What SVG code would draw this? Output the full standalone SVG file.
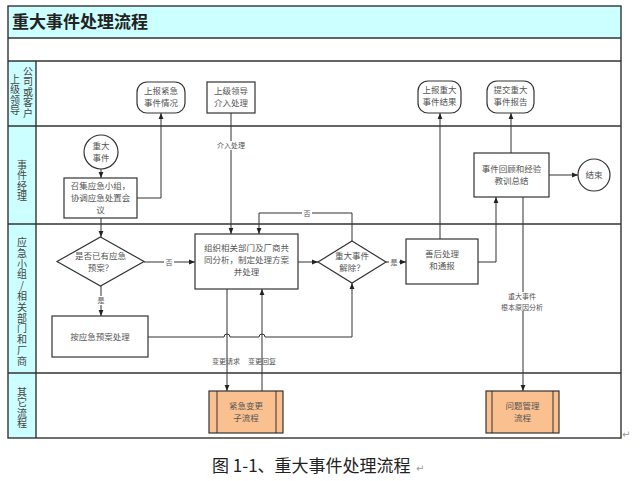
<svg xmlns="http://www.w3.org/2000/svg" width="640" height="481" viewBox="0 0 640 481">
<style>
.frame{fill:none;stroke:#333;stroke-width:1.4}
.band{fill:#CCFFFF;stroke:none}
.ln{fill:none;stroke:#333;stroke-width:1}
.box{fill:#fff;stroke:#333;stroke-width:1.2}
.sub{fill:#FAC08F;stroke:#333;stroke-width:1.2}
.t{font-family:"Noto Sans CJK SC","Liberation Serif",serif;font-size:8.5px;fill:#555;text-anchor:middle}
.s{font-family:"Noto Sans CJK SC","Liberation Serif",serif;font-size:7px;fill:#555;text-anchor:middle}
.lane{font-family:"Noto Sans CJK SC","Liberation Serif",serif;font-size:10px;fill:#444;text-anchor:middle;writing-mode:vertical-rl;text-orientation:upright}
.title{font-family:"Noto Sans CJK SC",sans-serif;font-size:17px;font-weight:bold;fill:#222}
.cap{font-family:"Noto Sans CJK SC","Liberation Sans",sans-serif;font-size:17px;fill:#222}
.mark{font-family:"DejaVu Sans",sans-serif;font-size:10px;fill:#999}
</style>
<defs>
<marker id="arr" viewBox="0 0 10 10" refX="10" refY="5" markerWidth="6" markerHeight="6" orient="auto" markerUnits="userSpaceOnUse">
<path d="M0,1 L10,5 L0,9 Z" fill="#222"/>
</marker>
</defs>
<rect width="640" height="481" fill="#fff"/>
<g id="frame">
<rect class="band" x="8" y="6" width="613" height="32"/>
<rect class="band" x="8" y="61" width="28" height="377"/>
<rect class="frame" x="8" y="6" width="613" height="432"/>
<line class="frame" x1="8" y1="38" x2="621" y2="38"/>
<line class="frame" x1="8" y1="61" x2="621" y2="61"/>
<line class="frame" x1="8" y1="126" x2="621" y2="126"/>
<line class="frame" x1="8" y1="224" x2="621" y2="224"/>
<line class="frame" x1="8" y1="373" x2="621" y2="373"/>
<line class="frame" x1="36" y1="61" x2="36" y2="438"/>
<text class="title" x="12" y="28">重大事件处理流程</text>
</g>
<g id="lane-labels">
<text class="lane" x="28" y="92" style="letter-spacing:0.5px">公司或客户</text>
<text class="lane" x="15" y="95" style="letter-spacing:0.5px">上级领导</text>
<text class="lane" x="22" y="181" style="letter-spacing:0.5px">事件经理</text>
<text class="lane" x="22" y="302" style="letter-spacing:0.8px">应急小组/相关部门和厂商</text>
<text class="lane" x="22" y="408" style="letter-spacing:0.5px">其它流程</text>
</g>
<g id="connectors">
<line class="ln" x1="101" y1="169" x2="101" y2="178" marker-end="url(#arr)"/>
<polyline class="ln" points="137,198 161,198 161,113" marker-end="url(#arr)"/>
<line class="ln" x1="101" y1="218" x2="101" y2="237" marker-end="url(#arr)"/>
<line class="ln" x1="231" y1="113" x2="231" y2="234" marker-end="url(#arr)"/>
<line class="ln" x1="144" y1="262" x2="195" y2="262" marker-end="url(#arr)"/>
<line class="ln" x1="101" y1="286" x2="101" y2="316" marker-end="url(#arr)"/>
<polyline class="ln" points="352,241 352,213 259,213 259,234" marker-end="url(#arr)"/>
<line class="ln" x1="298" y1="262" x2="318" y2="262" marker-end="url(#arr)"/>
<path class="ln" d="M148,337 L224,337 A3,3 0 0 1 230,337 L259,337 A3,3 0 0 1 265,337 L352,337 L352,283" marker-end="url(#arr)"/>
<line class="ln" x1="227" y1="289" x2="227" y2="391" marker-end="url(#arr)"/>
<line class="ln" x1="262" y1="391" x2="262" y2="289" marker-end="url(#arr)"/>
<line class="ln" x1="386" y1="262" x2="406" y2="262" marker-end="url(#arr)"/>
<line class="ln" x1="440" y1="239" x2="440" y2="113" marker-end="url(#arr)"/>
<polyline class="ln" points="478,262 496,262 496,197" marker-end="url(#arr)"/>
<line class="ln" x1="511" y1="153" x2="511" y2="113" marker-end="url(#arr)"/>
<line class="ln" x1="549" y1="175" x2="578" y2="175" marker-end="url(#arr)"/>
<line class="ln" x1="523" y1="197" x2="523" y2="391" marker-end="url(#arr)"/>
<rect x="220" y="141" width="22" height="9" fill="#fff"/>
<text class="s" x="231" y="148">介入处理</text>
<rect x="302" y="209" width="10" height="9" fill="#fff"/>
<text class="s" x="307" y="216">否</text>
<rect x="164" y="258" width="10" height="9" fill="#fff"/>
<text class="s" x="169" y="265">否</text>
<rect x="96" y="296" width="10" height="9" fill="#fff"/>
<text class="s" x="101" y="303">是</text>
<rect x="389" y="258" width="10" height="9" fill="#fff"/>
<text class="s" x="394" y="265">是</text>
<text class="s" x="226" y="364">变更请求</text>
<text class="s" x="262" y="364">变更回复</text>
<rect x="500" y="292" width="44" height="19" fill="#fff"/>
<text class="s" x="522" y="299">重大事件</text>
<text class="s" x="522" y="310">根本原因分析</text>
</g>
<g id="n-report-urgent">
<rect class="box" x="137" y="82" width="48" height="31" rx="10"/>
<text class="t" x="161" y="94">上报紧急</text>
<text class="t" x="161" y="106">事件情况</text>
</g>
<g id="n-leader">
<rect class="box" x="207" y="82" width="48" height="31"/>
<text class="t" x="231" y="94">上级领导</text>
<text class="t" x="231" y="106">介入处理</text>
</g>
<g id="n-report-result">
<rect class="box" x="418" y="81" width="43" height="32" rx="10"/>
<text class="t" x="439.5" y="93">上报重大</text>
<text class="t" x="439.5" y="105">事件结果</text>
</g>
<g id="n-submit-report">
<rect class="box" x="487" y="81" width="47" height="32" rx="10"/>
<text class="t" x="510.5" y="93">提交重大</text>
<text class="t" x="510.5" y="105">事件报告</text>
</g>
<g id="n-start">
<circle class="box" cx="101" cy="152" r="17"/>
<text class="t" x="101" y="149">重大</text>
<text class="t" x="101" y="161">事件</text>
</g>
<g id="n-convene">
<rect class="box" x="64" y="178" width="73" height="40"/>
<text class="t" x="100.5" y="189">召集应急小组，</text>
<text class="t" x="100.5" y="201">协调应急处置会</text>
<text class="t" x="100.5" y="213">议</text>
</g>
<g id="n-has-plan">
<polygon class="box" points="100.5,237 144,261.5 100.5,286 57,261.5"/>
<text class="t" x="100.5" y="259">是否已有应急</text>
<text class="t" x="100.5" y="271">预案？</text>
</g>
<g id="n-organize">
<rect class="box" x="195" y="234" width="103" height="55"/>
<text class="t" x="246.5" y="251">组织相关部门及厂商共</text>
<text class="t" x="246.5" y="263">同分析，制定处理方案</text>
<text class="t" x="246.5" y="275">并处理</text>
</g>
<g id="n-plan-handle">
<rect class="box" x="52" y="316" width="96" height="41"/>
<text class="t" x="100" y="340">按应急预案处理</text>
</g>
<g id="n-resolved">
<polygon class="box" points="352,241 386,262 352,283 318,262"/>
<text class="t" x="352" y="259">重大事件</text>
<text class="t" x="352" y="271">解除？</text>
</g>
<g id="n-aftermath">
<rect class="box" x="406" y="239" width="72" height="45"/>
<text class="t" x="442" y="257">善后处理</text>
<text class="t" x="442" y="269">和通报</text>
</g>
<g id="n-review">
<rect class="box" x="474" y="153" width="75" height="44"/>
<text class="t" x="511.5" y="172">事件回顾和经验</text>
<text class="t" x="511.5" y="184">教训总结</text>
</g>
<g id="n-end">
<circle class="box" cx="594" cy="175" r="16"/>
<text class="t" x="594" y="178">结束</text>
</g>
<g id="n-change">
<rect class="sub" x="209" y="391" width="74" height="42"/>
<line class="ln" x1="217" y1="391" x2="217" y2="433"/>
<line class="ln" x1="276" y1="391" x2="276" y2="433"/>
<text class="t" x="246" y="409">紧急变更</text>
<text class="t" x="246" y="421">子流程</text>
</g>
<g id="n-problem">
<rect class="sub" x="486" y="391" width="73" height="42"/>
<line class="ln" x1="492" y1="391" x2="492" y2="433"/>
<line class="ln" x1="553" y1="391" x2="553" y2="433"/>
<text class="t" x="522.5" y="409">问题管理</text>
<text class="t" x="522.5" y="421">流程</text>
</g>
<g id="caption">
<text class="cap" x="212" y="472">图 1-1、重大事件处理流程</text>
<text class="mark" x="416" y="472">↵</text>
<text class="mark" x="622" y="438">↵</text>
</g>
</svg>
